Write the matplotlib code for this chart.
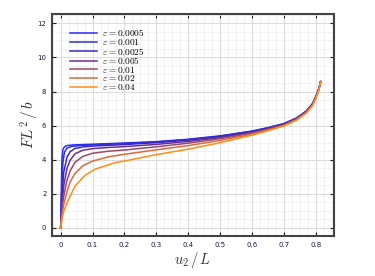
import matplotlib
matplotlib.use("Agg")
import matplotlib.pyplot as plt
from matplotlib.ticker import MultipleLocator

plt.rcParams['mathtext.fontset'] = 'cm'

eps_values = ['0.0005', '0.001', '0.0025', '0.005', '0.01', '0.02', '0.04']
eps_labels = [r'$\boldsymbol{\varepsilon = ' + v + '}$' for v in eps_values]
colors = ['#2a2aff', '#2f2fd8', '#3c28c8', '#6a3090', '#9a4a66', '#d86a3c', '#ff8c1a']

u_0005 = [0, 0.002, 0.004, 0.007, 0.012, 0.02, 0.04, 0.1, 0.2, 0.3, 0.4, 0.5, 0.6, 0.65, 0.7, 0.74, 0.77, 0.79, 0.80, 0.81, 0.815]
F_0005 = [0, 2.0, 4.0, 4.6, 4.76, 4.83, 4.87, 4.91, 4.98, 5.06, 5.2, 5.4, 5.68, 5.88, 6.12, 6.45, 6.85, 7.3, 7.7, 8.2, 8.58]

u_001 = [0, 0.003, 0.007, 0.012, 0.02, 0.035, 0.06, 0.1, 0.2, 0.3, 0.4, 0.5, 0.6, 0.65, 0.7, 0.74, 0.77, 0.79, 0.80, 0.81, 0.815]
F_001 = [0, 2.0, 3.8, 4.45, 4.68, 4.78, 4.83, 4.87, 4.95, 5.04, 5.18, 5.38, 5.67, 5.87, 6.11, 6.44, 6.84, 7.29, 7.69, 8.2, 8.58]

u_0025 = [0, 0.005, 0.01, 0.02, 0.03, 0.045, 0.07, 0.1, 0.2, 0.3, 0.4, 0.5, 0.6, 0.65, 0.7, 0.74, 0.77, 0.79, 0.80, 0.81, 0.815]
F_0025 = [0, 2.1, 3.3, 4.15, 4.48, 4.66, 4.75, 4.8, 4.89, 5.0, 5.15, 5.35, 5.64, 5.85, 6.1, 6.43, 6.83, 7.28, 7.68, 8.19, 8.58]

u_005 = [0, 0.005, 0.01, 0.02, 0.03, 0.045, 0.07, 0.1, 0.15, 0.2, 0.3, 0.4, 0.5, 0.6, 0.65, 0.7, 0.74, 0.77, 0.79, 0.80, 0.81, 0.815]
F_005 = [0, 1.5, 2.5, 3.5, 3.98, 4.35, 4.56, 4.65, 4.72, 4.77, 4.9, 5.07, 5.3, 5.6, 5.82, 6.07, 6.41, 6.81, 7.26, 7.66, 8.18, 8.58]

u_01 = [0, 0.005, 0.01, 0.02, 0.03, 0.045, 0.07, 0.1, 0.15, 0.2, 0.3, 0.4, 0.5, 0.6, 0.65, 0.7, 0.74, 0.77, 0.79, 0.80, 0.81, 0.815]
F_01 = [0, 1.15, 1.9, 2.8, 3.35, 3.85, 4.2, 4.38, 4.5, 4.57, 4.76, 4.97, 5.23, 5.56, 5.79, 6.04, 6.38, 6.79, 7.24, 7.64, 8.16, 8.58]

u_02 = [0, 0.005, 0.01, 0.02, 0.03, 0.045, 0.07, 0.1, 0.15, 0.2, 0.3, 0.4, 0.5, 0.6, 0.65, 0.7, 0.74, 0.77, 0.79, 0.80, 0.81, 0.815]
F_02 = [0, 0.85, 1.4, 2.15, 2.7, 3.2, 3.65, 3.92, 4.17, 4.32, 4.58, 4.83, 5.13, 5.5, 5.74, 6.0, 6.35, 6.76, 7.21, 7.62, 8.14, 8.58]

u_04 = [0, 0.005, 0.01, 0.024, 0.045, 0.076, 0.108, 0.17, 0.22, 0.3, 0.4, 0.5, 0.6, 0.65, 0.7, 0.74, 0.77, 0.79, 0.80, 0.81, 0.815]
F_04 = [0, 0.6, 1.0, 1.64, 2.45, 3.08, 3.45, 3.82, 4.0, 4.3, 4.62, 5.0, 5.44, 5.7, 5.98, 6.32, 6.73, 7.18, 7.6, 8.12, 8.58]

series_u = [u_0005, u_001, u_0025, u_005, u_01, u_02, u_04]
series_F = [F_0005, F_001, F_0025, F_005, F_01, F_02, F_04]

x_ticks = [0, 0.1, 0.2, 0.3, 0.4, 0.5, 0.6, 0.7, 0.8]
x_tick_labels = ['0', '0.1', '0.2', '0.3', '0.4', '0.5', '0.6', '0.7', '0.8']
y_ticks = [0, 2, 4, 6, 8, 10, 12]

fig = plt.figure(figsize=(3.75, 2.76), dpi=100)
ax = fig.add_axes([0.1387, 0.145, 0.752, 0.804])

for u, F, c, lab in zip(series_u, series_F, colors, eps_labels):
    ax.plot(u, F, color=c, lw=1.1, label=lab)

ax.set_xlim(-0.027, 0.857)
ax.set_ylim(-0.47, 12.54)
ax.set_xticks(x_ticks)
ax.set_xticklabels(x_tick_labels)
ax.set_yticks(y_ticks)
ax.xaxis.set_minor_locator(MultipleLocator(0.025))
ax.yaxis.set_minor_locator(MultipleLocator(0.5))
ax.grid(which='major', color='#dcdcdc', lw=0.8)
ax.grid(which='minor', color='#eeeeee', lw=0.5)
ax.set_axisbelow(True)
ax.tick_params(which='major', direction='in', length=3, width=0.8, color='#222222',
               labelsize=5, labelcolor='#1a1a4a', top=True, right=True, pad=4)
ax.tick_params(which='minor', length=0)
for s in ax.spines.values():
    s.set_color('#444444')
    s.set_linewidth(1.5)

ax.set_xlabel(r'$u_2\,/\,L$', fontsize=10.5, color='#333333', labelpad=1.5)
ax.set_ylabel(r'$FL^2\,/\,b$', fontsize=11, color='#333333', labelpad=-2.5)

leg = ax.legend(loc='upper left', bbox_to_anchor=(0.063, 0.94), frameon=False,
                fontsize=6.8, handlelength=2.9, handletextpad=0.5, labelspacing=-0.15,
                borderaxespad=0, borderpad=0)

fig.savefig('out.png', dpi=100)
